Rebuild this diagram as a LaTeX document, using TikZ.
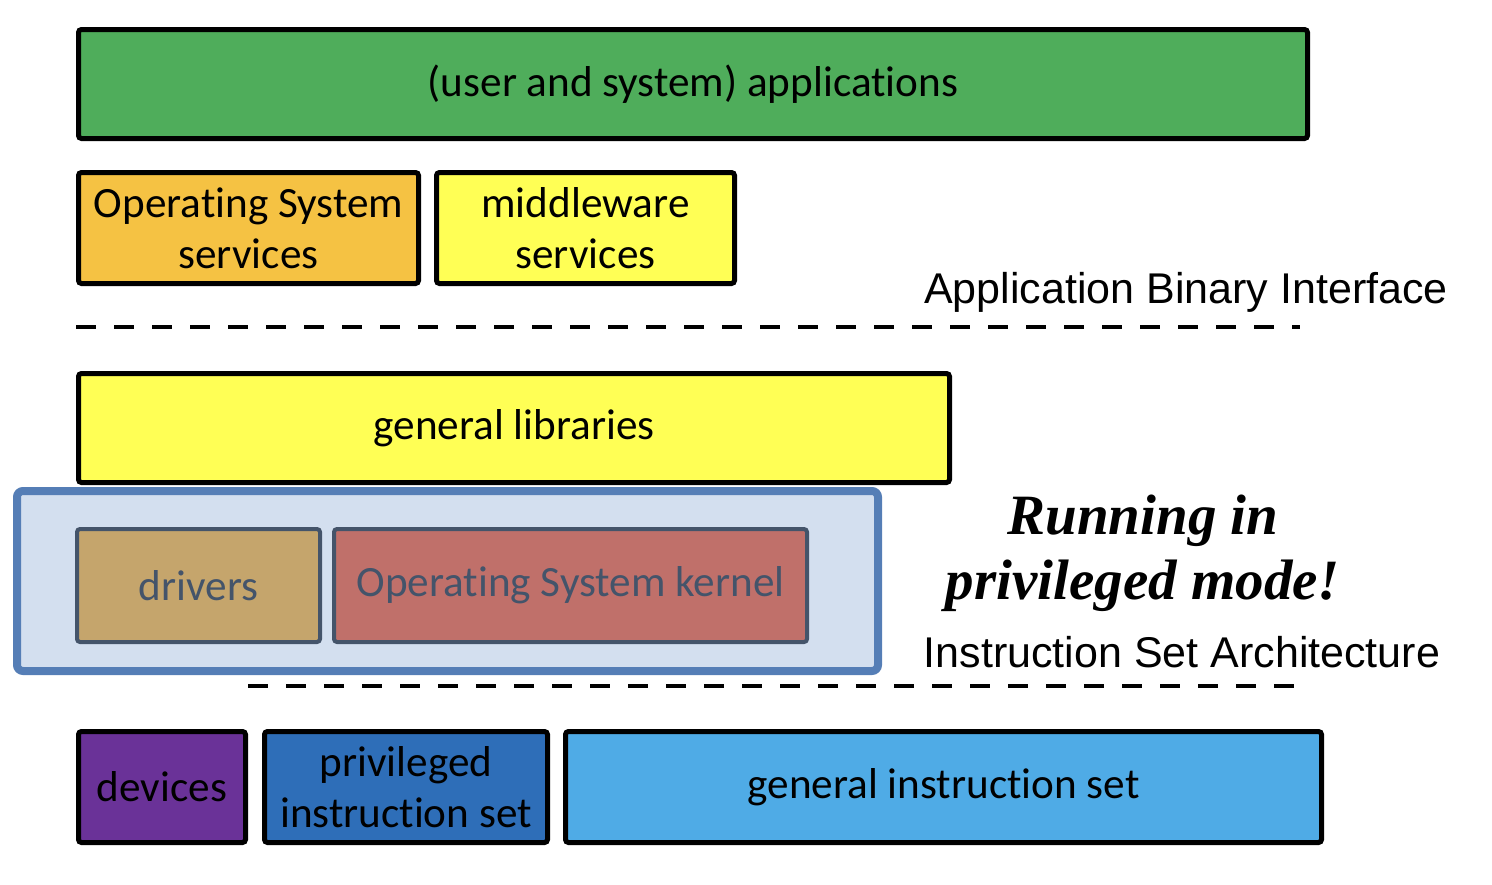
\documentclass[tikz,border=0pt]{standalone}
\usepackage{fontspec}
\setmainfont[Ligatures={NoCommon,NoRequired,NoContextual}]{Carlito}
\newfontfamily\labelfont{Liberation Sans}
\newfontfamily\notefont{Liberation Serif}
\definecolor{cgreen}{HTML}{4FAD5B}
\definecolor{corange}{HTML}{F5C243}
\definecolor{cyellow}{HTML}{FFFF55}
\definecolor{cframe}{HTML}{557EB6}
\definecolor{cframefill}{HTML}{D3DFEF}
\definecolor{cdrivers}{HTML}{C5A56C}
\definecolor{ckernel}{HTML}{C0706A}
\definecolor{cslate}{HTML}{44546A}
\definecolor{cpurple}{HTML}{6A3298}
\definecolor{cpriv}{HTML}{2E6EB8}
\definecolor{cgen}{HTML}{4FABE6}
\tikzset{
  layer/.style={draw=black, line width=2.5pt, rounded corners=1.5pt, inner sep=0pt,
    align=center, font=\fontsize{21.6}{25.5}\selectfont},
  inner layer/.style={draw=cslate, line width=2pt, rounded corners=1.5pt, inner sep=0pt,
    align=center, text=cslate, font=\fontsize{21.6}{25.5}\selectfont},
  frame/.style={draw=cframe, fill=cframefill, line width=4pt, rounded corners=3pt, inner sep=0pt},
  sep/.style={line width=2.3pt, dash pattern=on 10pt off 9pt},
  iface/.style={font=\labelfont\fontsize{21.5}{26}\selectfont, inner sep=0pt},
  note/.style={font=\notefont\bfseries\itshape\fontsize{28.5}{32.5}\selectfont, align=center, inner sep=0pt}
}
\begin{document}
\begin{tikzpicture}[x=0.5pt,y=-0.5pt]
\useasboundingbox (0,0) rectangle (1492,884);
% top layers
\node[layer, fill=cgreen, minimum width=614.5pt, minimum height=54.5pt] (apps) at (693,84) {(user and system) applications};
\node[layer, fill=corange, minimum width=170pt, minimum height=55.5pt] (ossvc) at (248.5,228) {Operating System\\services};
\node[layer, fill=cyellow, minimum width=149pt, minimum height=55.5pt] (mw) at (585.5,228) {middleware\\services};
\node[iface] (abi) at (1186,292) {Application Binary Interface};
\coordinate (abiL) at (76,327);
\coordinate (abiR) at (1300,327);
\draw[sep] (abiL) -- (abiR);
% libraries
\node[layer, fill=cyellow, minimum width=435.5pt, minimum height=54.5pt] (libs) at (514,428) {general libraries};
% privileged frame
\node[frame, minimum width=430.5pt, minimum height=90pt] (priv) at (447.5,581) {};
\node[inner layer, fill=cdrivers, minimum width=121.5pt, minimum height=56.5pt] (drv) at (198.5,585.5) {drivers};
\node[inner layer, fill=ckernel, minimum width=236.5pt, minimum height=56.5pt] (kern) at (570.5,585.5) {Operating System kernel};
\node[note] (run) at (1143,553) {Running in\\privileged mode!};
\node[iface] (isa) at (1182,652) {Instruction Set Architecture};
\coordinate (isaL) at (248,686);
\coordinate (isaR) at (1308,686);
\draw[sep] (isaL) -- (isaR);
% hardware
\node[layer, fill=cpurple, minimum width=83.5pt, minimum height=55.5pt] (dev) at (162,787) {devices};
\node[layer, fill=cpriv, minimum width=141.5pt, minimum height=55.5pt] (pis) at (406,787) {privileged\\instruction set};
\node[layer, fill=cgen, minimum width=378pt, minimum height=55.5pt] (gis) at (943.5,787) {general instruction set};
\end{tikzpicture}
\end{document}
